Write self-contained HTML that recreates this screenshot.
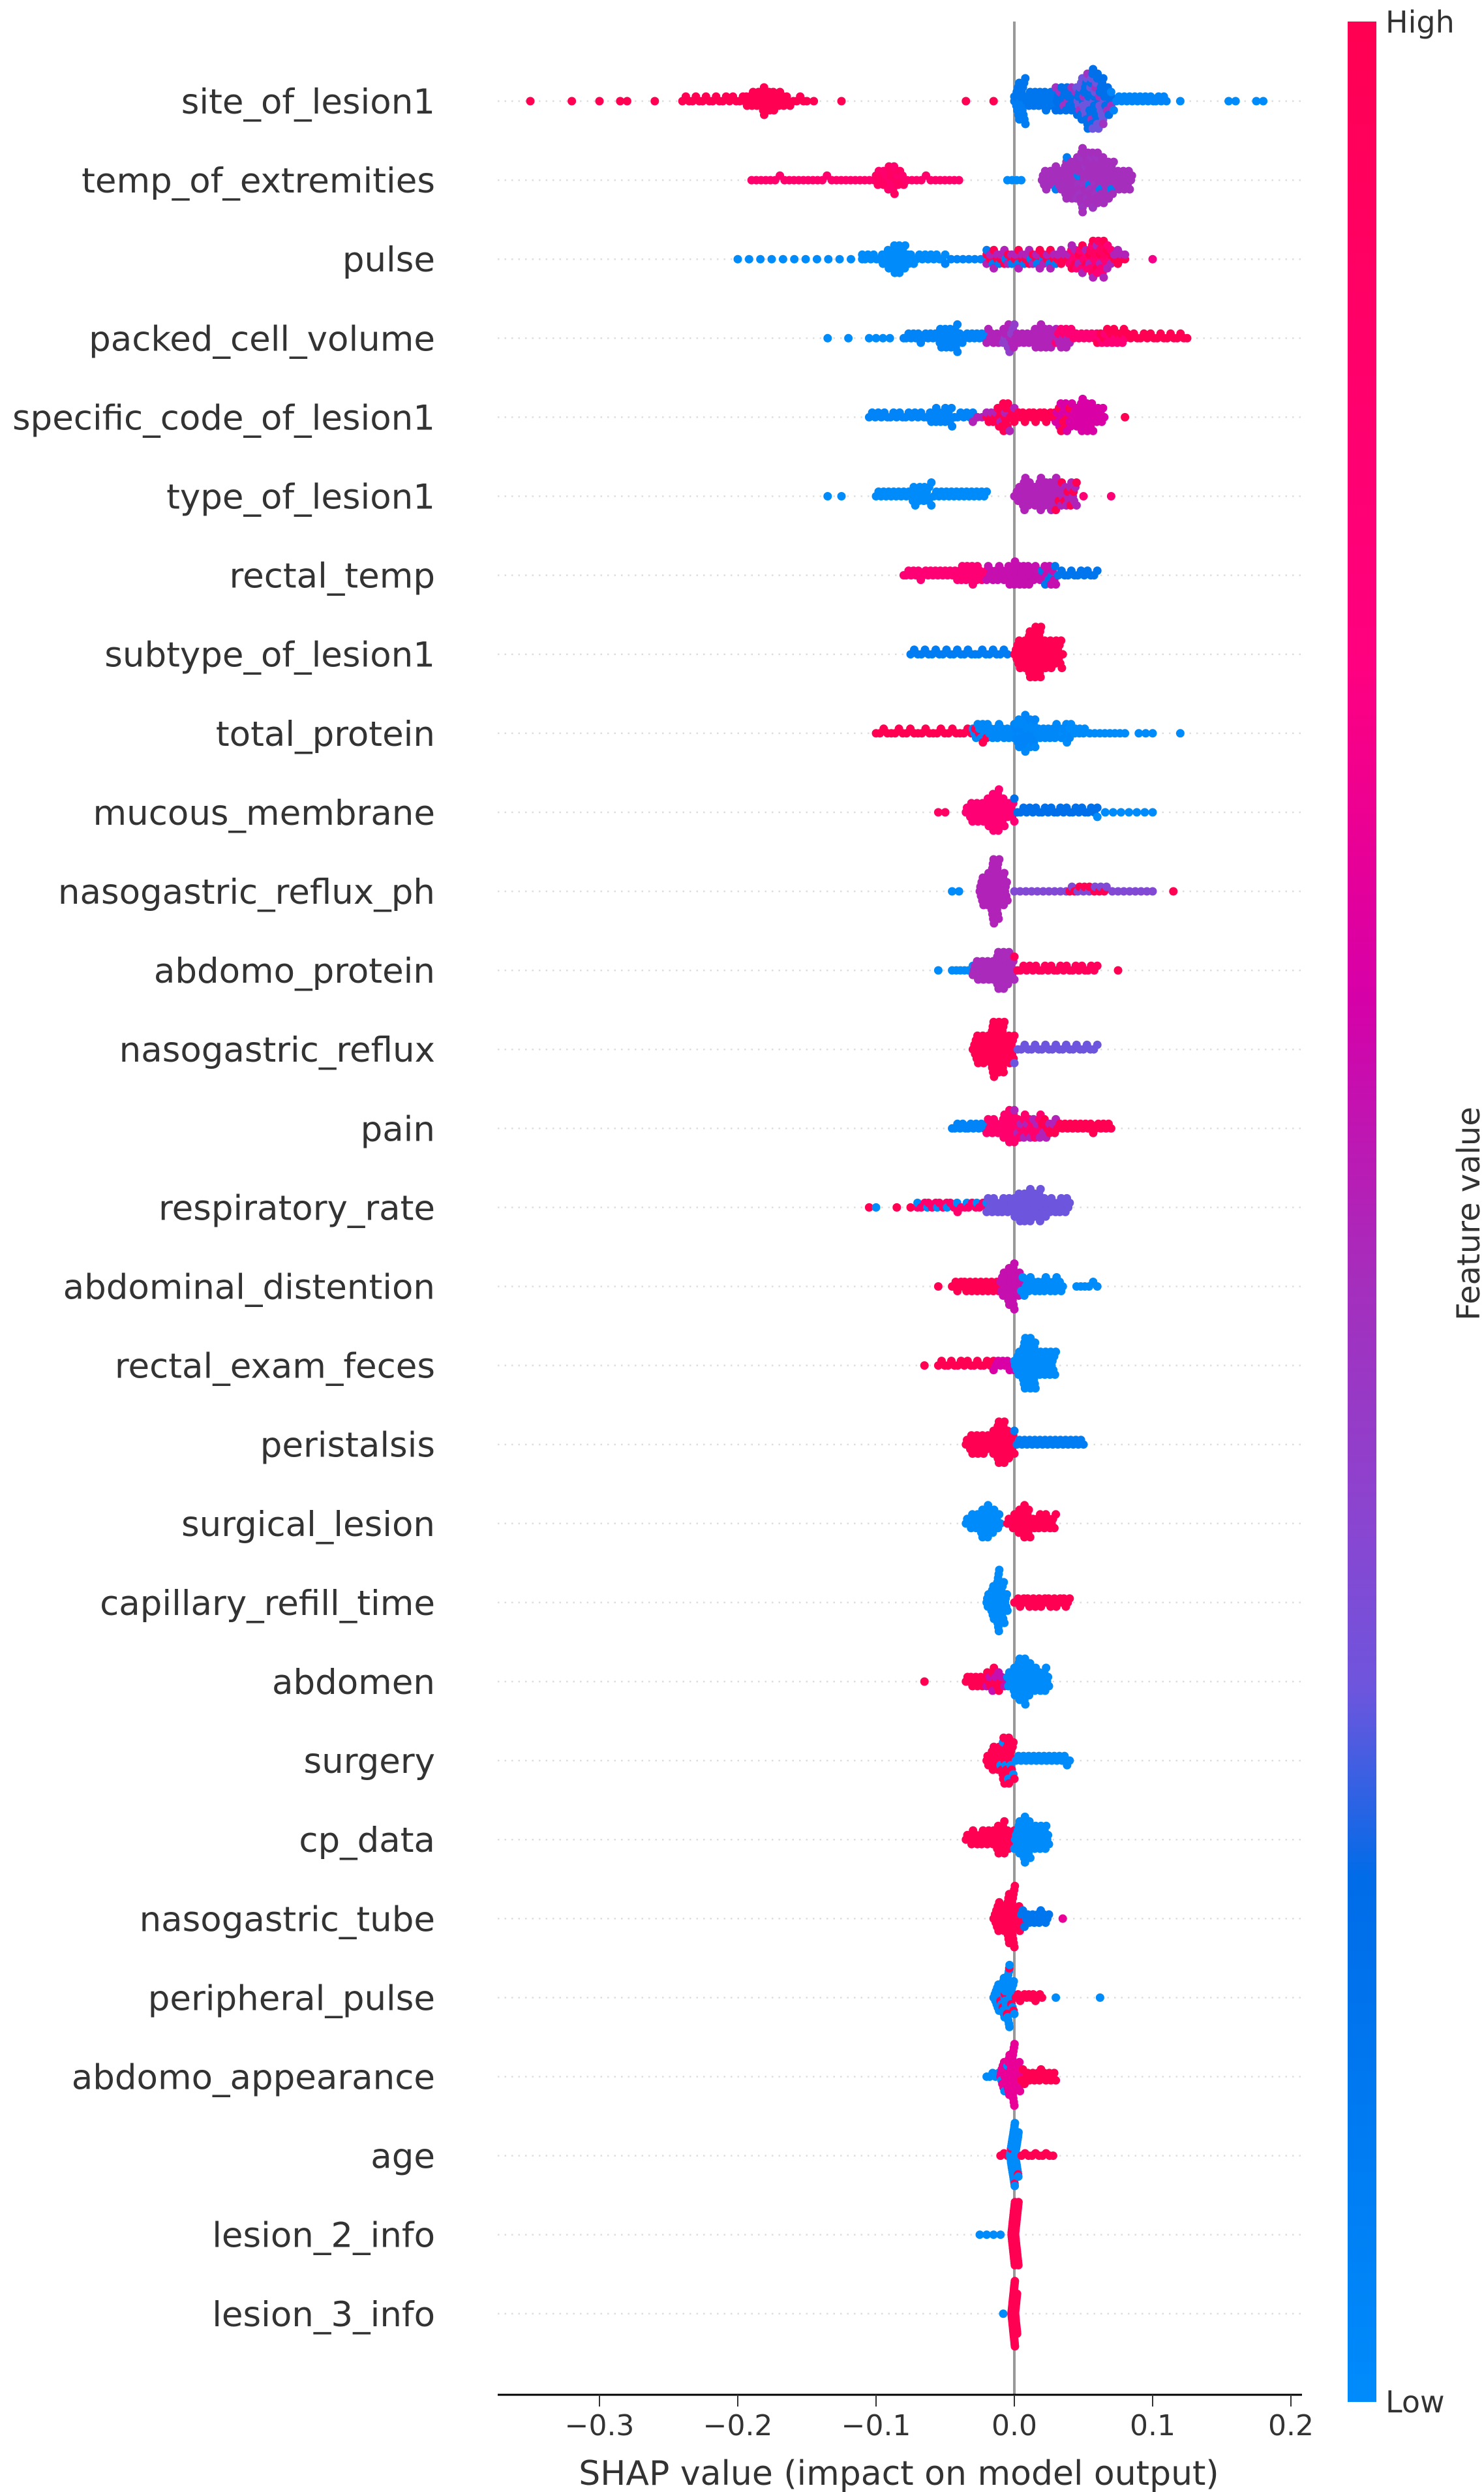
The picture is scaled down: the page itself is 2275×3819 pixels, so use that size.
<!DOCTYPE html>
<html><head><meta charset="utf-8">
<style>
html,body{margin:0;padding:0;background:#fff;}
svg{display:block;}
text{font-family:"DejaVu Sans","Liberation Sans",sans-serif;}
</style></head>
<body>
<svg id="chart" width="2275" height="3819" viewBox="0 0 2275 3819" xmlns="http://www.w3.org/2000/svg">
<defs>
<linearGradient id="cbar" x1="0" y1="1" x2="0" y2="0">
<stop offset="0" stop-color="#008bfb"/>
<stop offset="0.22" stop-color="#006ce8"/>
<stop offset="0.30" stop-color="#6e55dd"/>
<stop offset="0.37" stop-color="#8a45d0"/>
<stop offset="0.47" stop-color="#a52ebd"/>
<stop offset="0.59" stop-color="#d600a8"/>
<stop offset="0.73" stop-color="#ff0080"/>
<stop offset="1" stop-color="#ff0052"/>
</linearGradient>
</defs>
<g id="grid"></g>
<line x1="1555" y1="33" x2="1555" y2="3670" stroke="#999" stroke-width="4"/>
<g id="dots"></g>
<g id="labels"></g>
<g id="xaxis"></g>
<text x="1378" y="3808" font-size="52" fill="#333" text-anchor="middle">SHAP value (impact on model output)</text>
<rect x="2066" y="33" width="44" height="3648" fill="url(#cbar)"/>
<text x="2124" y="50" font-size="46" fill="#333">High</text>
<text x="2124" y="3697" font-size="46" fill="#333">Low</text>
<text x="0" y="0" font-size="48" fill="#333" text-anchor="middle" transform="translate(2268,1860) rotate(-90)">Feature value</text>
</svg>
<script>
// ---- data ----
const features = ["site_of_lesion1","temp_of_extremities","pulse","packed_cell_volume","specific_code_of_lesion1","type_of_lesion1","rectal_temp","subtype_of_lesion1","total_protein","mucous_membrane","nasogastric_reflux_ph","abdomo_protein","nasogastric_reflux","pain","respiratory_rate","abdominal_distention","rectal_exam_feces","peristalsis","surgical_lesion","capillary_refill_time","abdomen","surgery","cp_data","nasogastric_tube","peripheral_pulse","abdomo_appearance","age","lesion_2_info","lesion_3_info"];
const xTicks = [-0.3,-0.2,-0.1,0.0,0.1,0.2];
const xTickLabels = ["\u22120.3","\u22120.2","\u22120.1","0.0","0.1","0.2"];
// segments per feature: [shapStart, shapEnd, count, featureValue(0..1)]
const s_site = [[-0.35,-0.35,1,1],[-0.32,-0.32,1,1],[-0.30,-0.30,1,1],[-0.285,-0.28,2,1],[-0.26,-0.26,1,1],[-0.24,-0.15,38,1],[-0.195,-0.165,18,1],[-0.185,-0.175,6,1],[-0.145,-0.145,1,1],[-0.125,-0.125,1,1],[-0.035,-0.035,1,1],[-0.015,-0.015,1,1],[0,0.03,35,0.15],[0.03,0.07,50,0.2],[0.03,0.07,15,0.45],[0.045,0.065,25,0.3],[0.052,0.06,8,0.2],[0,0.008,12,0.1],[0.07,0.11,22,0.05],[0.12,0.12,1,0],[0.155,0.16,2,0],[0.175,0.18,2,0]];
const s_temp = [[-0.19,-0.04,45,0.85],[-0.1,-0.08,16,0.9],[-0.093,-0.087,5,0.85],[-0.005,0.005,4,0],[0.02,0.085,85,0.47],[0.035,0.07,40,0.47],[0.045,0.06,15,0.45],[0.03,0.07,6,0.1]];
const s_pulse = [[-0.2,-0.11,12,0],[-0.11,-0.05,30,0],[-0.095,-0.075,15,0],[-0.088,-0.082,6,0],[-0.05,-0.02,8,0.05],[-0.02,0.08,40,1],[-0.02,0.08,40,0.5],[0.04,0.07,25,0.8],[0.055,0.065,8,0.9],[-0.02,0.03,12,0.1],[0.1,0.1,1,0.7]];
const s_pcv = [[-0.135,-0.135,1,0],[-0.12,-0.12,1,0],[-0.105,-0.09,4,0],[-0.08,-0.02,35,0.05],[-0.055,-0.04,14,0.05],[-0.02,0.04,50,0.5],[-0.008,0.0,8,0.4],[0.015,0.025,8,0.5],[0.03,0.08,28,0.8],[0.06,0.125,28,1]];
const s_spec = [[-0.105,-0.03,35,0.05],[-0.06,-0.045,10,0.05],[-0.03,0,10,0.5],[-0.02,0.04,40,1],[-0.012,-0.005,8,1],[0.03,0.065,40,0.6],[0.045,0.055,10,0.6],[0.08,0.08,1,1]];
const s_type = [[-0.135,-0.135,1,0],[-0.125,-0.125,1,0],[-0.1,-0.02,45,0],[-0.075,-0.06,10,0],[0,0.045,50,0.5],[0.015,0.03,12,0.5],[0.005,0.01,6,0.5],[0.03,0.045,8,1],[0.05,0.05,1,0.8],[0.07,0.07,1,0.8]];
const s_rtemp = [[-0.08,-0.02,35,0.8],[-0.04,-0.025,10,0.8],[-0.02,0.03,45,0.55],[-0.005,0.01,10,0.55],[0.02,0.06,18,0.15]];
const s_sub = [[-0.075,-0.005,28,0.1],[0,0.035,60,1],[0.008,0.02,18,1]];
const s_tp = [[-0.1,-0.02,30,1],[-0.03,0.04,60,0.03],[0.0,0.015,18,0.05],[0.035,0.05,6,0],[0.04,0.08,12,0],[0.09,0.09,1,0],[0.095,0.1,2,0],[0.12,0.12,1,0]];
const s_muc = [[-0.055,-0.05,2,0.9],[-0.035,0,45,0.8],[-0.02,-0.01,14,0.8],[0,0.06,28,0.2],[0.06,0.1,8,0]];
const s_ngph = [[-0.045,-0.04,2,0],[-0.025,-0.005,45,0.5],[-0.018,-0.012,12,0.5],[0,0.1,25,0.35],[0.04,0.065,8,1],[0.115,0.115,1,1]];
const s_abp = [[-0.055,-0.055,1,0],[-0.045,-0.03,6,0],[-0.03,0,40,0.48],[-0.015,-0.005,12,0.48],[0,0.06,28,0.95],[0.075,0.075,1,1]];
const s_ngr = [[-0.03,0,55,1],[-0.018,-0.008,16,1],[0,0.06,25,0.3]];
const s_pain = [[-0.045,-0.02,14,0.05],[-0.02,0.02,40,0.85],[-0.008,0.0,10,0.85],[0,0.03,14,0.5],[0.02,0.07,28,1]];
const s_resp = [[-0.105,-0.105,1,1],[-0.1,-0.1,1,0],[-0.085,-0.075,2,1],[-0.07,-0.02,20,0.85],[-0.07,-0.02,8,0],[-0.02,0.04,60,0.3],[0.0,0.02,20,0.3]];
const s_adist = [[-0.055,-0.055,1,1],[-0.045,-0.01,28,1],[-0.01,0.005,25,0.55],[-0.005,0.0,8,0.55],[0.005,0.035,28,0],[0.045,0.06,6,0]];
const s_ref = [[-0.065,-0.065,1,1],[-0.055,-0.015,18,1],[-0.015,0,10,0.6],[0,0.03,50,0],[0.005,0.015,16,0]];
const s_peri = [[-0.035,0,45,1],[-0.015,-0.005,14,1],[0,0.05,28,0.1]];
const s_surgl = [[-0.035,-0.01,28,0],[-0.025,-0.018,8,0],[-0.005,0.03,35,1],[0.002,0.01,10,1]];
const s_crt = [[-0.02,-0.005,35,0],[-0.014,-0.01,10,0],[0,0.04,30,1]];
const s_abd = [[-0.065,-0.065,1,1],[-0.035,-0.01,22,1],[-0.02,-0.005,8,0.55],[-0.005,0.025,45,0],[0.0,0.01,14,0]];
const s_surg = [[-0.02,0,32,1],[-0.01,-0.003,8,1],[-0.01,0.04,28,0]];
const s_cp = [[-0.035,0,35,1],[-0.015,-0.005,10,1],[0,0.025,40,0],[0.003,0.01,10,0]];
const s_ngt = [[-0.015,0.005,40,1],[-0.006,0.0,14,1],[0.005,0.025,18,0.15],[0.035,0.035,1,0.65]];
const s_pp = [[-0.015,0,35,0],[-0.008,-0.003,12,0],[-0.01,0.02,20,1],[0.03,0.03,1,0],[0.062,0.062,1,0]];
const s_aap = [[-0.02,-0.005,8,0],[-0.01,0.005,35,0.65],[-0.004,0.0,12,0.65],[0.005,0.03,22,1]];
const s_age = [[-0.01,0.028,16,1],[-0.003,0.003,45,0]];
const s_l2 = [[-0.025,-0.01,4,0],[-0.002,0.003,60,1]];
const s_l3 = [[-0.008,-0.008,1,0],[-0.002,0.002,60,1]];
const segments = [s_site,s_temp,s_pulse,s_pcv,s_spec,s_type,s_rtemp,s_sub,s_tp,s_muc,s_ngph,s_abp,s_ngr,s_pain,s_resp,s_adist,s_ref,s_peri,s_surgl,s_crt,s_abd,s_surg,s_cp,s_ngt,s_pp,s_aap,s_age,s_l2,s_l3];

// ---- scales ----
const X0 = 1555, PX = 2120;
function xScale(v){ return X0 + v*PX; }
const ROW0 = 155, ROWH = 121.1;
function yScale(i){ return ROW0 + i*ROWH; }
const stops = [[0,[0,139,251]],[0.22,[0,108,232]],[0.30,[110,85,221]],[0.37,[138,69,208]],[0.47,[165,46,189]],[0.59,[214,0,168]],[0.73,[255,0,128]],[1,[255,0,82]]];
function cmap(t){
  for(let k=1;k<stops.length;k++){
    if(t<=stops[k][0]){
      const a=stops[k-1],b=stops[k],f=(t-a[0])/(b[0]-a[0]||1);
      const c=a[1].map((v,j)=>Math.round(v+(b[1][j]-v)*f));
      return `rgb(${c[0]},${c[1]},${c[2]})`;
    }
  }
  return "rgb(255,0,82)";
}
const NS="http://www.w3.org/2000/svg";
const grid=document.getElementById('grid'), dots=document.getElementById('dots'), labels=document.getElementById('labels'), xaxis=document.getElementById('xaxis');

features.forEach((name,i)=>{
  const y=yScale(i);
  const gl=document.createElementNS(NS,'line');
  
  
  gl.setAttribute('x1',763);gl.setAttribute('x2',1995);gl.setAttribute('y1',y);gl.setAttribute('y2',y);
  gl.setAttribute('stroke','#ddd');gl.setAttribute('stroke-width','2.5');gl.setAttribute('stroke-dasharray','2.5 8');
  grid.appendChild(gl);
  const t=document.createElementNS(NS,'text');
  
  
  t.setAttribute('x',667);t.setAttribute('y',y+19);t.setAttribute('text-anchor','end');
  t.setAttribute('font-size','53');t.setAttribute('fill','#333');
  t.textContent=name;labels.appendChild(t);

  const pts=[];
  segments[i].forEach(s=>{
    const [a,b,n,c]=s;
    for(let k=0;k<n;k++){
      const v = n===1 ? a : a+(b-a)*k/(n-1);
      pts.push([v,c,k]);
    }
  });
  pts.sort((p,q)=>p[0]-q[0]);
  const binW=8, bins={};
  pts.forEach(p=>{const key=Math.round(xScale(p[0])/binW);(bins[key]=bins[key]||[]).push(p);});
  let maxL=0;
  Object.values(bins).forEach(arr=>{arr.forEach((p,j)=>{const l=(j%2===0?1:-1)*Math.ceil(j/2);p.push(l);maxL=Math.max(maxL,Math.abs(l));});});
  const step=Math.min(7,50/Math.max(maxL,1));
  const g=document.createElementNS(NS,'g');
  
  
  pts.forEach(p=>{
    const cc=document.createElementNS(NS,'circle');
    
    
    cc.setAttribute('cx',xScale(p[0]).toFixed(1));
    cc.setAttribute('cy',(y+p[3]*step).toFixed(1));
    cc.setAttribute('r','6.5');cc.setAttribute('fill',cmap(p[1]));
    g.appendChild(cc);
  });
  dots.appendChild(g);
});

const ax=document.createElementNS(NS,'line');


ax.setAttribute('x1',763);ax.setAttribute('x2',1996);ax.setAttribute('y1',3670);ax.setAttribute('y2',3670);
ax.setAttribute('stroke','#000');ax.setAttribute('stroke-width','3');
xaxis.appendChild(ax);
xTicks.forEach((v,k)=>{
  const x=xScale(v);
  const tk=document.createElementNS(NS,'line');
  
  
  tk.setAttribute('x1',x);tk.setAttribute('x2',x);tk.setAttribute('y1',3670);tk.setAttribute('y2',3688);
  tk.setAttribute('stroke','#333');tk.setAttribute('stroke-width','2');
  xaxis.appendChild(tk);
  const tl=document.createElementNS(NS,'text');
  
  
  tl.setAttribute('x',x);tl.setAttribute('y',3732);tl.setAttribute('text-anchor','middle');
  tl.setAttribute('font-size','44');tl.setAttribute('fill','#333');
  tl.textContent=xTickLabels[k];
  xaxis.appendChild(tl);
});
</script>
</body></html>
